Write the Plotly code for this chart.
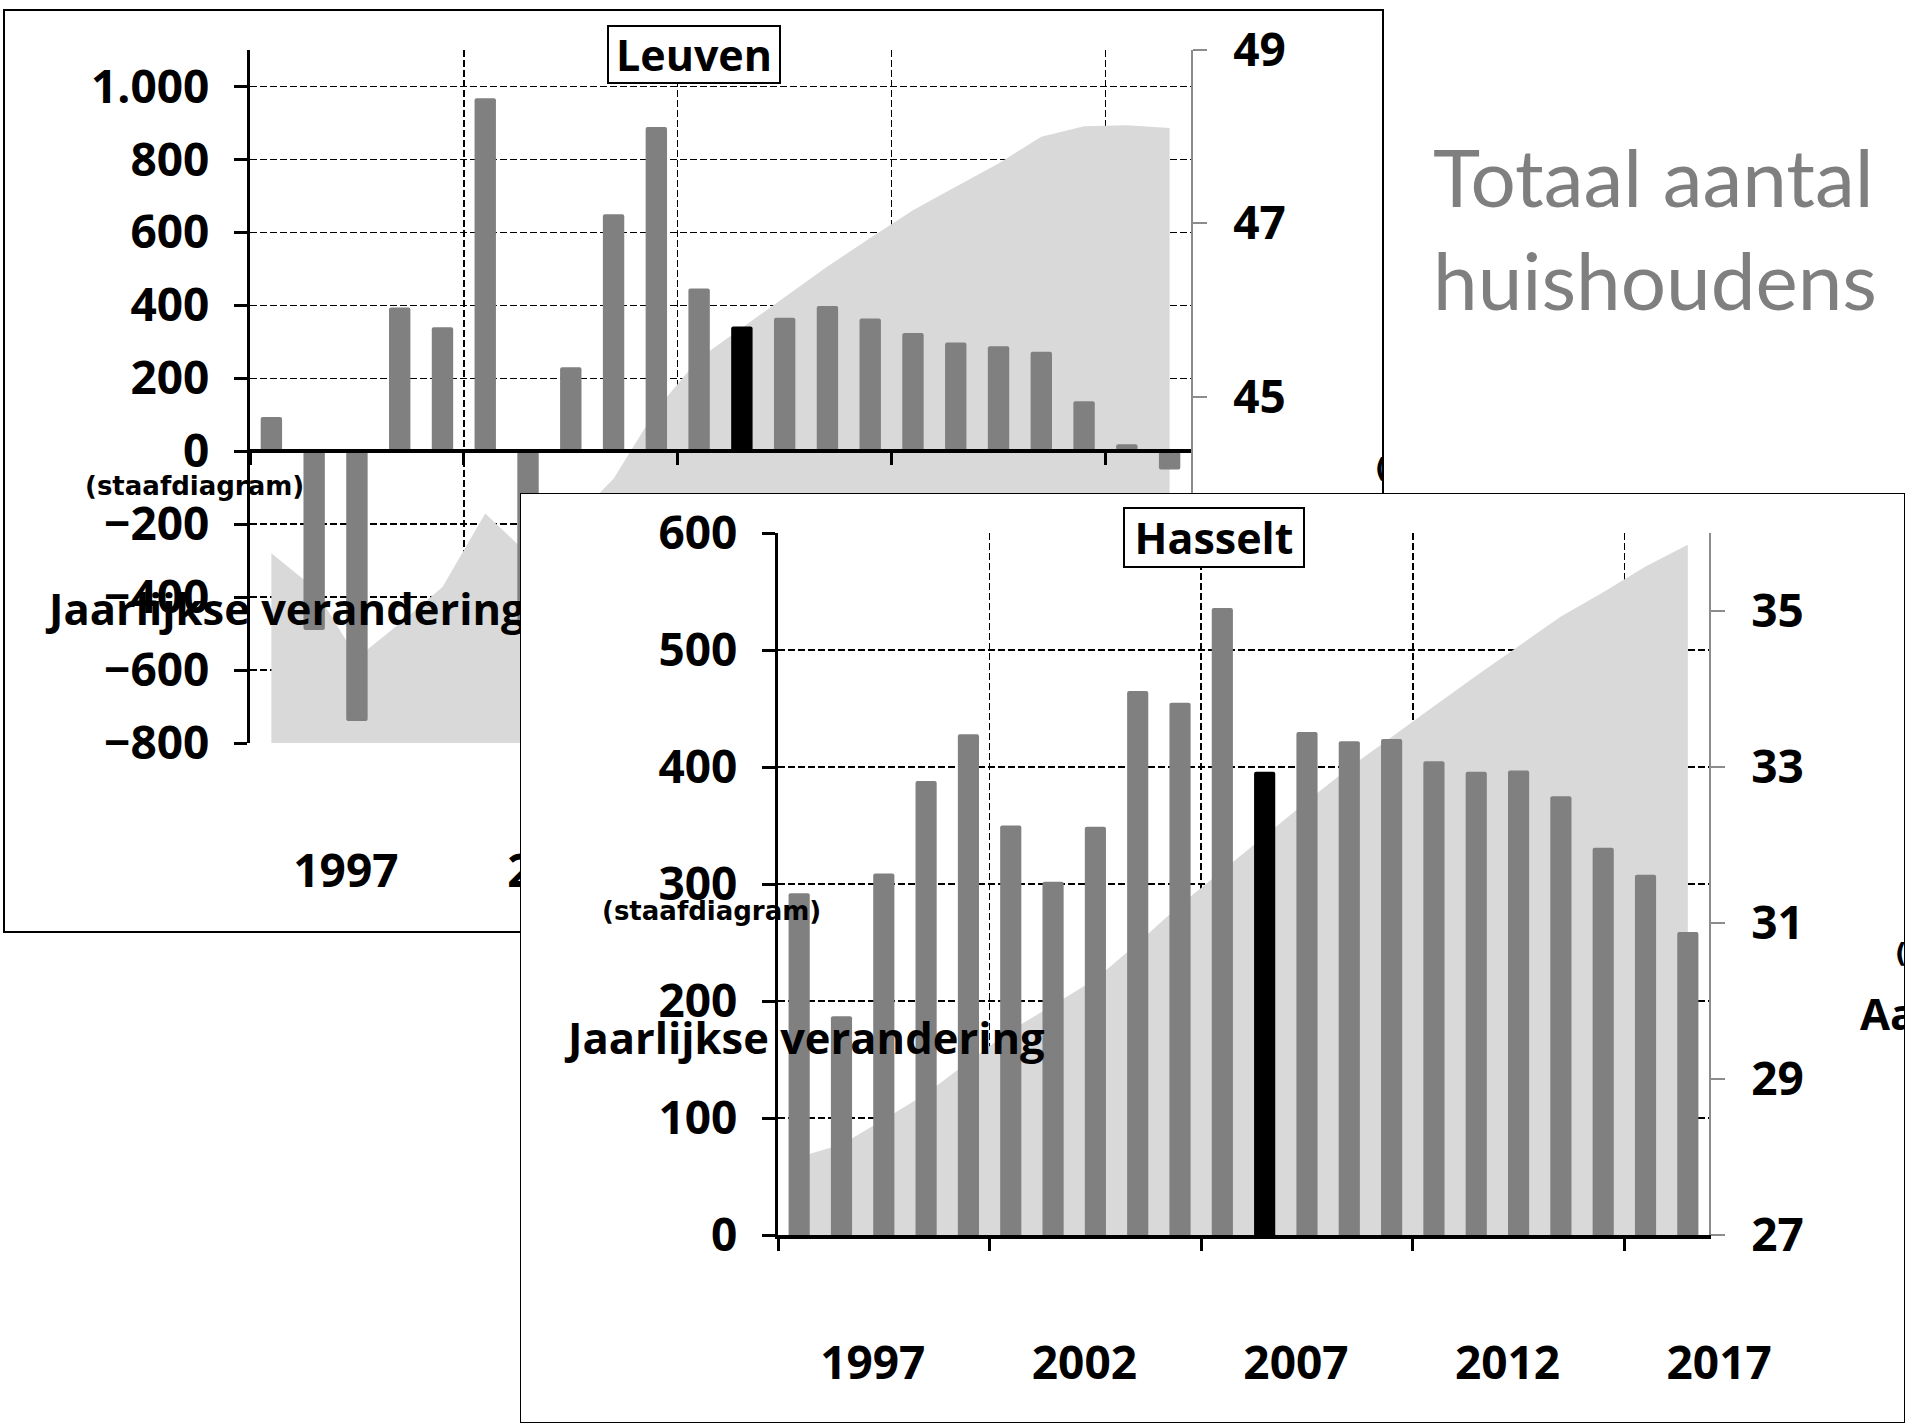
import plotly.graph_objects as go

# ---------------- data ----------------
years = list(range(1995, 2017))
leuven_change = [94, -490, -740, 394, 340, 968, -480, 230, 650, 889, 446,
                 342, 366, 398, 364, 324, 298, 288, 273, 137, 19, -50]
leuven_total = [43.19, 42.79, 41.98, 42.38, 42.80, 43.65, 43.18, 43.55, 44.05, 44.85, 45.44,
                45.79, 46.14, 46.50, 46.83, 47.15, 47.42, 47.69, 48.00, 48.12, 48.13, 48.10]
hasselt_change = [292, 187, 309, 388, 428, 350, 302, 349, 465, 455, 536,
                  396, 430, 422, 424, 405, 396, 397, 375, 331, 308, 259]
hasselt_total = [28.00, 28.16, 28.48, 28.81, 29.22, 29.62, 29.95, 30.28, 30.74, 31.23, 31.67,
                 32.12, 32.56, 32.99, 33.39, 33.78, 34.17, 34.55, 34.93, 35.24, 35.57, 35.85]
highlight_year = 2006

label_years = [1997, 2002, 2007, 2012, 2017]
boundary_ticks = [1994.5, 1999.5, 2004.5, 2009.5, 2014.5]
leuven_left_ticks = [-800, -600, -400, -200, 0, 200, 400, 600, 800, 1000]
leuven_left_text = ["−800", "−600", "−400", "−200", "0", "200", "400", "600", "800", "1.000"]
leuven_right_ticks = [41, 43, 45, 47, 49]
hasselt_left_ticks = [0, 100, 200, 300, 400, 500, 600]
hasselt_right_ticks = [27, 29, 31, 33, 35]

# ---------------- layout helpers ----------------
W, H = 1917, 1425


def fx(px):
    return px / W


def fy(py):
    return 1 - py / H


BAR_GRAY = "#808080"
AREA_GRAY = "#d9d9d9"
AXIS_GRAY = "#8c8c8c"
TICK_FONT = dict(family="Open Sans", size=46, color="black", weight="bold")
TITLE_FONT = dict(family="Open Sans", size=43.5, color="black", weight="bold")
SMALL_FONT = dict(family="DejaVu Sans", size=26, color="black", weight="bold")
Y_STANDOFF_L = 15
Y_STANDOFF_R = 17
X_LABEL_STANDOFF = 97

bar_colors = ["black" if y == highlight_year else BAR_GRAY for y in years]

fig = go.Figure()

# ====== LEUVEN ======
L = dict(x0=250, x1=1191, y0=50, y1=743)
L_RANGE = [-800, 1100]
L_CAT = (L["x1"] - L["x0"]) / len(years)
zero_pos = fy(L["y1"]) + (0 - L_RANGE[0]) / (L_RANGE[1] - L_RANGE[0]) * (fy(L["y0"]) - fy(L["y1"]))

fig.add_trace(go.Scatter(x=years, y=leuven_total, mode="lines", fill="tozeroy",
                         fillcolor=AREA_GRAY, line=dict(width=0, color=AREA_GRAY),
                         xaxis="x", yaxis="y", hoverinfo="skip"))
fig.add_trace(go.Bar(x=years, y=leuven_change, width=0.5,
                     marker=dict(color=bar_colors, line=dict(width=0), cornerradius=2),
                     xaxis="x", yaxis="y2"))
# year label axis (Leuven)
fig.add_trace(go.Scatter(x=[label_years[0]], y=[0.5], mode="markers", marker=dict(opacity=0),
                         xaxis="x2", yaxis="y3", hoverinfo="skip"))
# axis titles (Leuven), clipped to its frame
LB = dict(x0=4, x1=1383, y0=10, y1=932)
l_texts = [
    ("(staafdiagram)", 85, 488, SMALL_FONT),
    ("Jaarlijkse verandering", 49, 614, TITLE_FONT),
    ("(vlakdiagram)", 1375, 470, SMALL_FONT),
    ("Aantal huishoudens", 1340, 534, TITLE_FONT),
]
for t, px, py, f in l_texts:
    fig.add_trace(go.Scatter(x=[px], y=[py], mode="text", text=[t], textposition="middle right",
                             textfont=f, xaxis="x3", yaxis="y4", cliponaxis=True, hoverinfo="skip"))

# ====== HASSELT FRAME (white card) ======
HB = dict(x0=520, x1=1905, y0=493, y1=1423)
fig.add_trace(go.Scatter(x=[0, 1, 1, 0, 0], y=[0, 0, 1, 1, 0], mode="lines", fill="toself",
                         fillcolor="white", line=dict(color="black", width=2),
                         xaxis="x4", yaxis="y5", cliponaxis=False, hoverinfo="skip"))

# ====== HASSELT ======
Hs = dict(x0=778, x1=1709, y0=533, y1=1235)
H_CAT = (Hs["x1"] - Hs["x0"]) / len(years)
fig.add_trace(go.Scatter(x=years, y=hasselt_total, mode="lines", fill="tozeroy",
                         fillcolor=AREA_GRAY, line=dict(width=0, color=AREA_GRAY),
                         xaxis="x5", yaxis="y6", hoverinfo="skip"))
fig.add_trace(go.Bar(x=years, y=hasselt_change, width=0.5,
                     marker=dict(color=bar_colors, line=dict(width=0), cornerradius=2),
                     xaxis="x5", yaxis="y7"))
fig.add_trace(go.Scatter(x=[label_years[0]], y=[0.5], mode="markers", marker=dict(opacity=0),
                         xaxis="x6", yaxis="y8", hoverinfo="skip"))
h_texts = [
    ("(staafdiagram)", 602, 913, SMALL_FONT),
    ("Jaarlijkse verandering", 568, 1043, TITLE_FONT),
    ("(vlakdiagram)", 1895, 955, SMALL_FONT),
    ("Aantal huishoudens", 1860, 1019, TITLE_FONT),
]
for t, px, py, f in h_texts:
    fig.add_trace(go.Scatter(x=[px], y=[py], mode="text", text=[t], textposition="middle right",
                             textfont=f, xaxis="x7", yaxis="y9", cliponaxis=True, hoverinfo="skip"))

grid = dict(showgrid=True, gridcolor="black", gridwidth=1.5, griddash="7px,3px")
hidden = dict(visible=False, fixedrange=True, automargin=False)
noauto = dict(automargin=False, fixedrange=True)

layout = dict(
    template="none",
    width=W, height=H, autosize=False, showlegend=False,
    margin=dict(l=0, r=0, t=0, b=0, pad=0, autoexpand=False),
    paper_bgcolor="white", plot_bgcolor="rgba(0,0,0,0)",
    # --- Leuven category axis (crosses at zero) ---
    xaxis=dict(domain=[fx(L["x0"]), fx(L["x1"])], range=[1994.5, 2016.5], anchor="free", position=zero_pos,
               tickmode="array", tickvals=boundary_ticks, ticks="outside", ticklen=12, tickwidth=3,
               tickcolor="black", showticklabels=False, showline=True, linewidth=4, linecolor="black",
               layer="above traces", zeroline=False, **grid, **noauto),
    yaxis=dict(domain=[fy(L["y1"]), fy(L["y0"])], range=[41, 49], side="right", anchor="x",
               tickmode="array", tickvals=leuven_right_ticks, ticks="outside", ticklen=14, tickwidth=2,
               tickcolor=AXIS_GRAY, showline=True, linecolor=AXIS_GRAY, linewidth=2, showgrid=False,
               zeroline=False, tickfont=TICK_FONT, ticklabelstandoff=Y_STANDOFF_R, **noauto),
    yaxis2=dict(overlaying="y", side="left", anchor="x", range=L_RANGE, tickmode="array",
                tickvals=leuven_left_ticks, ticktext=leuven_left_text, ticks="outside", ticklen=13,
                tickwidth=3, tickcolor="black", showline=True, linewidth=3.5, linecolor="black",
                layer="above traces", zeroline=False, tickfont=TICK_FONT, ticklabelstandoff=Y_STANDOFF_L,
                **grid, **noauto),
    xaxis2=dict(domain=[fx(L["x0"]), fx(L["x0"] + 24 * L_CAT)], range=[1994.5, 2018.5], anchor="free",
                position=fy(L["y1"]), tickmode="array", tickvals=label_years, ticks="", showline=False,
                showgrid=False, zeroline=False, tickfont=TICK_FONT, ticklabelstandoff=X_LABEL_STANDOFF,
                ticklabelshift=-11, **noauto),
    yaxis3=dict(domain=[fy(L["y1"]), fy(L["y0"])], range=[0, 1], anchor="x2", **hidden),
    xaxis3=dict(domain=[fx(LB["x0"]), fx(LB["x1"])], range=[LB["x0"], LB["x1"]], anchor="y4", **hidden),
    yaxis4=dict(domain=[fy(LB["y1"]), fy(LB["y0"])], range=[LB["y1"], LB["y0"]], anchor="x3", **hidden),
    # --- Hasselt card ---
    xaxis4=dict(domain=[fx(HB["x0"]), fx(HB["x1"])], range=[0, 1], anchor="y5", **hidden),
    yaxis5=dict(domain=[fy(HB["y1"]), fy(HB["y0"])], range=[0, 1], anchor="x4", **hidden),
    # --- Hasselt axes ---
    xaxis5=dict(domain=[fx(Hs["x0"]), fx(Hs["x1"])], range=[1994.5, 2016.5], anchor="y6",
                tickmode="array", tickvals=boundary_ticks, ticks="outside", ticklen=12, tickwidth=3,
                tickcolor="black", showticklabels=False, showline=True, linewidth=4, linecolor="black",
                layer="above traces", zeroline=False, **grid, **noauto),
    yaxis6=dict(domain=[fy(Hs["y1"]), fy(Hs["y0"])], range=[27, 36], side="right", anchor="x5",
                tickmode="array", tickvals=hasselt_right_ticks, ticks="outside", ticklen=14, tickwidth=2,
                tickcolor=AXIS_GRAY, showline=True, linecolor=AXIS_GRAY, linewidth=2, showgrid=False,
                zeroline=False, tickfont=TICK_FONT, ticklabelstandoff=Y_STANDOFF_R, **noauto),
    yaxis7=dict(overlaying="y6", side="left", anchor="x5", range=[0, 600], tickmode="array",
                tickvals=hasselt_left_ticks, ticks="outside", ticklen=13, tickwidth=3, tickcolor="black",
                showline=True, linewidth=3.5, linecolor="black", layer="above traces", zeroline=False,
                tickfont=TICK_FONT, ticklabelstandoff=Y_STANDOFF_L, **grid, **noauto),
    xaxis6=dict(domain=[fx(Hs["x0"]), fx(Hs["x0"] + 24 * H_CAT)], range=[1994.5, 2018.5], anchor="free",
                position=fy(Hs["y1"]), tickmode="array", tickvals=label_years, ticks="", showline=False,
                showgrid=False, zeroline=False, tickfont=TICK_FONT, ticklabelstandoff=X_LABEL_STANDOFF,
                ticklabelshift=-11, **noauto),
    yaxis8=dict(domain=[fy(Hs["y1"]), fy(Hs["y0"])], range=[0, 1], anchor="x6", **hidden),
    xaxis7=dict(domain=[fx(HB["x0"]), fx(HB["x1"])], range=[HB["x0"], HB["x1"]], anchor="y9", **hidden),
    yaxis9=dict(domain=[fy(HB["y1"]), fy(HB["y0"])], range=[HB["y1"], HB["y0"]], anchor="x7", **hidden),
)
fig.update_layout(**layout)

# Leuven frame (lies under everything, partly covered by the Hasselt card)
fig.add_shape(type="rect", xref="paper", yref="paper", x0=fx(LB["x0"]), x1=fx(LB["x1"]),
              y0=fy(LB["y1"]), y1=fy(LB["y0"]), line=dict(color="black", width=2), layer="below")

# chart titles in boxes
fig.add_annotation(text="Leuven", xref="paper", yref="paper", x=fx(694), y=fy(54.5),
                   xanchor="center", yanchor="middle", showarrow=False, width=170, height=55,
                   bordercolor="black", borderwidth=2, borderpad=0, bgcolor="white",
                   font=dict(family="Open Sans", size=43, color="black", weight="bold"))
fig.add_annotation(text="Hasselt", xref="paper", yref="paper", x=fx(1213.5), y=fy(537.5),
                   xanchor="center", yanchor="middle", showarrow=False, width=178, height=57,
                   bordercolor="black", borderwidth=2, borderpad=0, bgcolor="white",
                   font=dict(family="Open Sans", size=43, color="black", weight="bold"))

# slide heading
HEAD_FONT = dict(family="Lato", size=80, color="#7f7f7f")
fig.add_annotation(text="Totaal aantal", xref="paper", yref="paper", x=fx(1431), y=fy(176),
                   xanchor="left", yanchor="middle", showarrow=False, font=HEAD_FONT)
fig.add_annotation(text="huishoudens", xref="paper", yref="paper", x=fx(1431), y=fy(279),
                   xanchor="left", yanchor="middle", showarrow=False, font=HEAD_FONT)

fig.write_html("out.html", config={"displayModeBar": False, "staticPlot": True},
               post_script="document.body.style.margin='0px';document.body.style.overflow='hidden';")
